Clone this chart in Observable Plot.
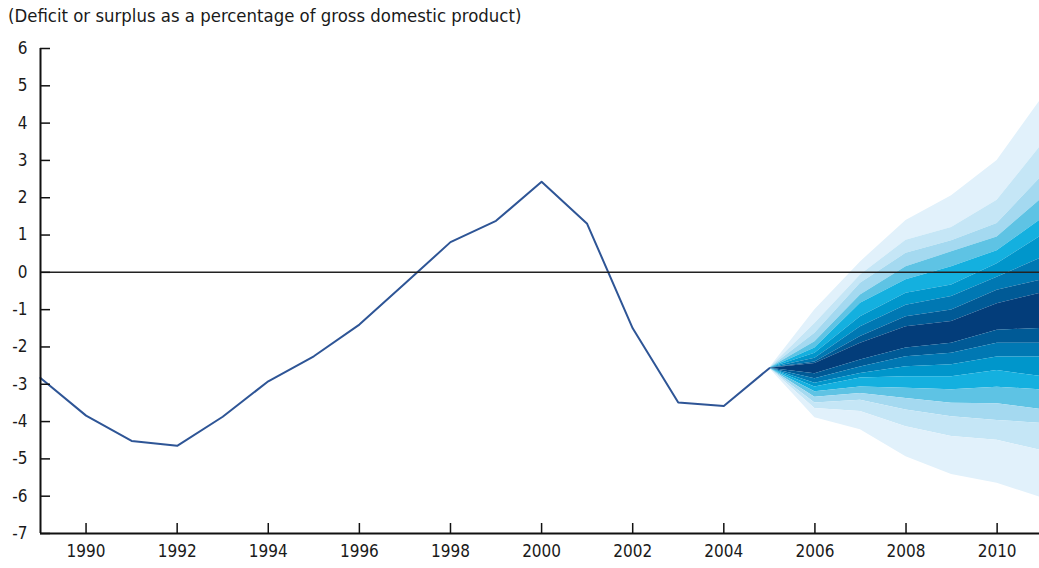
<!DOCTYPE html>
<html><head><meta charset="utf-8">
<script src="https://cdn.jsdelivr.net/npm/d3@7"></script>
<script src="https://cdn.jsdelivr.net/npm/@observablehq/plot@0.6"></script>
<style>
body{margin:0;background:#fff;}
#title{font-family:"DejaVu Sans Condensed","Liberation Sans Narrow",sans-serif;font-size:18.4px;height:30px;line-height:30px;padding-left:8px;color:#1a1a1a;box-sizing:border-box;padding-top:1px;white-space:nowrap;}
#chart svg{display:block;}
</style></head><body>
<div id="title">(Deficit or surplus as a percentage of gross domestic product)</div>
<div id="chart"></div>
<script>
// Historical budget balance (% of GDP)
const years   = [1989, 1990, 1991, 1992, 1993, 1994, 1995, 1996, 1997, 1998, 1999, 2000, 2001, 2002, 2003, 2004, 2005];
const deficit = [-2.83, -3.84, -4.52, -4.65, -3.87, -2.92, -2.25, -1.40, -0.30, 0.81, 1.38, 2.43, 1.30, -1.50, -3.49, -3.58, -2.57];

// Fan chart projection: boundaries (top to bottom) for each projection year
const fanYears = [2005, 2006, 2007, 2008, 2009, 2010, 2011];
const fanBounds = [
  [-2.57, -1.00,  0.28,  1.39,  2.05,  3.00,  4.70],
  [-2.57, -1.37, -0.07,  0.86,  1.20,  1.93,  3.45],
  [-2.57, -1.63, -0.29,  0.51,  0.85,  1.31,  2.60],
  [-2.57, -1.86, -0.61,  0.15,  0.55,  0.95,  2.00],
  [-2.57, -2.03, -0.83, -0.20,  0.15,  0.58,  1.45],
  [-2.57, -2.17, -1.19, -0.56, -0.34,  0.23,  1.00],
  [-2.57, -2.30, -1.46, -0.88, -0.65, -0.13,  0.40],
  [-2.57, -2.40, -1.72, -1.19, -1.01, -0.48, -0.20],
  [-2.57, -2.44, -1.90, -1.46, -1.32, -0.84, -0.55],
  [-2.57, -2.72, -2.35, -2.03, -1.90, -1.55, -1.50],
  [-2.57, -2.85, -2.54, -2.26, -2.17, -1.90, -1.90],
  [-2.57, -2.97, -2.71, -2.53, -2.48, -2.27, -2.27],
  [-2.57, -3.07, -2.83, -2.80, -2.80, -2.63, -2.80],
  [-2.57, -3.20, -3.07, -3.11, -3.15, -3.08, -3.15],
  [-2.57, -3.35, -3.25, -3.38, -3.51, -3.52, -3.68],
  [-2.57, -3.50, -3.43, -3.69, -3.87, -3.97, -4.05],
  [-2.57, -3.65, -3.73, -4.14, -4.40, -4.50, -4.78],
  [-2.57, -3.90, -4.22, -4.94, -5.42, -5.65, -6.05]
];
// colours from centre band outward
const fanColors = ["#033d7a", "#005a96", "#0078b3", "#0096cb", "#14b0df", "#5ec3e4", "#a4d9f0", "#c5e6f6", "#e1f1fb"];

const xTicks = [1990, 1992, 1994, 1996, 1998, 2000, 2002, 2004, 2006, 2008, 2010];
const yTicks = [-7, -6, -5, -4, -3, -2, -1, 0, 1, 2, 3, 4, 5, 6];

const series = years.map((y, i) => ({year: y, value: deficit[i]}));
const nBands = fanBounds.length - 1;
const center = Math.floor(nBands / 2);
const bandMarks = [];
for (let b = 0; b < nBands; b++) {
  const rows = fanYears.map((y, i) => ({year: y, top: fanBounds[b][i], bottom: fanBounds[b + 1][i]}));
  bandMarks.push(Plot.areaY(rows, {x: "year", y1: "bottom", y2: "top", fill: fanColors[Math.abs(b - center)], clip: true}));
}

const font = '"DejaVu Sans Condensed","Liberation Sans Narrow",sans-serif';
const chart = Plot.plot({
  width: 1039,
  height: 538,
  marginLeft: 40,
  marginRight: 0,
  marginTop: 18,
  marginBottom: 35,
  style: {fontFamily: font, fontSize: "17px", color: "#1a1a1a", background: "#fff"},
  x: {domain: [1989, 2010.93], label: null},
  y: {domain: [-7, 6], label: null},
  marks: [
    ...bandMarks,
    Plot.line(series, {x: "year", y: "value", stroke: "#2e5596", strokeWidth: 2}),
    Plot.ruleY([0], {stroke: "#222", strokeWidth: 1.5}),
    Plot.ruleX([1989], {stroke: "#111", strokeWidth: 2}),
    Plot.ruleY([-7], {stroke: "#111", strokeWidth: 2}),
    Plot.ruleX(xTicks, {x: d => d, y1: -7, y2: -7, insetTop: -10, stroke: "#111", strokeWidth: 1.5}),
    Plot.ruleY(yTicks, {y: d => d, x1: 1989, x2: 1989, insetRight: -10, stroke: "#111", strokeWidth: 1.5}),
    Plot.axisX({ticks: xTicks, tickSize: 0, tickPadding: 11, tickFormat: d => String(d), fontSize: 17}),
    Plot.axisY({ticks: yTicks, tickSize: 0, tickPadding: 13, tickFormat: d => String(d), fontSize: 17})
  ]
});
document.getElementById("chart").appendChild(chart);
</script>
</body></html>
